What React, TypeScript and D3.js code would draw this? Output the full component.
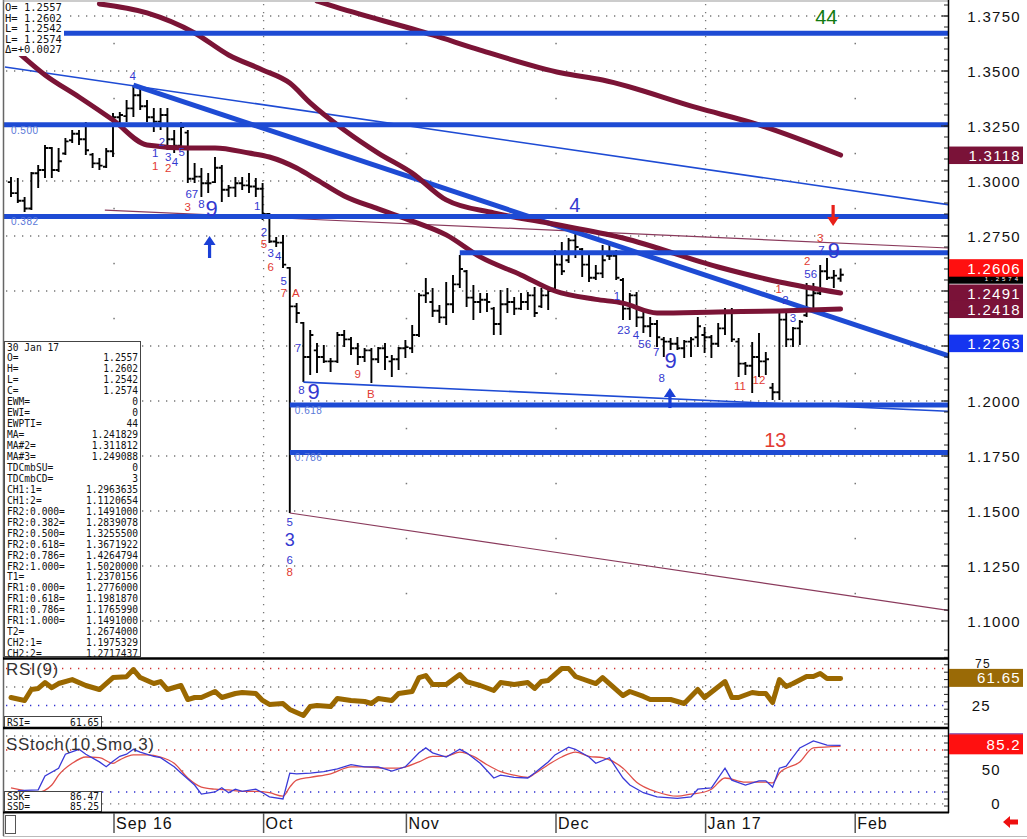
import React from "react";
import * as d3 from "d3";

// ---------- DATA (GBP daily, 11 Aug 2016 .. 30 Jan 2017, bar index 0..122) ----------
const highs = [
  1.3018, 1.3014, 1.2927, 1.3041, 1.3073, 1.3164, 1.3155, 1.315, 1.3195, 1.3232,
  1.3232, 1.3268, 1.3127, 1.3105, 1.315, 1.3309, 1.3314, 1.3368, 1.3436, 1.3423,
  1.3368, 1.3332, 1.3332, 1.3332, 1.3232, 1.3268, 1.3232, 1.3082, 1.3059, 1.3036,
  1.3109, 1.3073, 1.2982, 1.3018, 1.3018, 1.3036, 1.3014, 1.2991, 1.2855, 1.2745,
  1.2755, 1.2609, 1.2445, 1.2359, 1.2323, 1.2264, 1.2255, 1.2195, 1.2314, 1.2323,
  1.2291, 1.2264, 1.2241, 1.2241, 1.2245, 1.2264, 1.2209, 1.2245, 1.2277, 1.2345,
  1.2491, 1.2559, 1.2514, 1.2436, 1.2541, 1.2573, 1.2664, 1.2595, 1.2527, 1.2491,
  1.2491, 1.2427, 1.2505, 1.2514, 1.2473, 1.2491, 1.2495, 1.2518, 1.2514, 1.2505,
  1.2686, 1.2723, 1.2741, 1.2764, 1.2695, 1.2664, 1.2618, 1.2709, 1.2709, 1.2686,
  1.2559, 1.2491, 1.2495, 1.2405, 1.2382, 1.2368, 1.2291, 1.2286, 1.2291, 1.2277,
  1.2291, 1.2382, 1.2336, 1.23, 1.2355, 1.2423, 1.2423, 1.2286, 1.2177, 1.2268,
  1.2309, 1.2223, 1.2082, 1.2414, 1.2405, 1.2336, 1.2368, 1.2536, 1.2536, 1.2618,
  1.265, 1.2595, 1.2602,
];
const lows = [
  1.2927, 1.29, 1.2859, 1.2868, 1.2968, 1.3014, 1.3014, 1.3041, 1.3118, 1.3173,
  1.3164, 1.3118, 1.3059, 1.305, 1.3059, 1.3109, 1.3255, 1.3268, 1.3291, 1.3323,
  1.3268, 1.3223, 1.3232, 1.3141, 1.3127, 1.3141, 1.2991, 1.2991, 1.2927, 1.2945,
  1.2991, 1.2905, 1.2927, 1.2927, 1.2959, 1.2945, 1.2927, 1.2823, 1.2718, 1.27,
  1.2605, 1.1491, 1.2355, 1.2086, 1.2118, 1.2127, 1.2173, 1.2132, 1.2173, 1.2245,
  1.2209, 1.2164, 1.2177, 1.2082, 1.2173, 1.2141, 1.2109, 1.2141, 1.2195, 1.2218,
  1.2291, 1.2445, 1.2382, 1.2355, 1.2345, 1.24, 1.2514, 1.2427, 1.2368, 1.24,
  1.2405, 1.23, 1.23, 1.24, 1.2391, 1.2414, 1.2414, 1.2382, 1.2423, 1.2414,
  1.2505, 1.2573, 1.2627, 1.265, 1.2564, 1.2541, 1.255, 1.2559, 1.2641, 1.255,
  1.2368, 1.2368, 1.2336, 1.2309, 1.2291, 1.2245, 1.22, 1.2232, 1.2232, 1.2195,
  1.22, 1.2245, 1.2218, 1.2195, 1.2245, 1.23, 1.2268, 1.2109, 1.2118, 1.2036,
  1.2109, 1.2118, 1.2005, 1.2005, 1.2245, 1.2245, 1.2255, 1.2382, 1.2414, 1.2482,
  1.255, 1.2514, 1.2542,
];
const opens = [
  1.2995, 1.2945, 1.291, 1.2875, 1.3035, 1.305, 1.315, 1.305, 1.3125, 1.3185,
  1.3215, 1.319, 1.312, 1.308, 1.3065, 1.3135, 1.329, 1.3295, 1.333, 1.339,
  1.334, 1.329, 1.327, 1.33, 1.319, 1.316, 1.322, 1.301, 1.302, 1.299,
  1.2995, 1.306, 1.296, 1.297, 1.299, 1.298, 1.2975, 1.2965, 1.285, 1.2725,
  1.272, 1.2605, 1.243, 1.2355, 1.22, 1.223, 1.22, 1.218, 1.218, 1.23,
  1.228, 1.224, 1.22, 1.223, 1.219, 1.224, 1.218, 1.219, 1.224, 1.224,
  1.23, 1.248, 1.245, 1.241, 1.238, 1.244, 1.253, 1.259, 1.247, 1.245,
  1.246, 1.242, 1.235, 1.244, 1.245, 1.242, 1.245, 1.248, 1.243, 1.248,
  1.251, 1.262, 1.264, 1.273, 1.269, 1.262, 1.256, 1.258, 1.266, 1.266,
  1.255, 1.242, 1.248, 1.238, 1.234, 1.235, 1.228, 1.227, 1.226, 1.224,
  1.227, 1.229, 1.23, 1.229, 1.226, 1.233, 1.24, 1.227, 1.217, 1.216,
  1.22, 1.218, 1.206, 1.204, 1.237, 1.228, 1.233, 1.239, 1.248, 1.249,
  1.259, 1.256, 1.2557,
];
const closes = [
  1.2945, 1.291, 1.2875, 1.3035, 1.305, 1.315, 1.305, 1.309, 1.318, 1.3215,
  1.319, 1.314, 1.308, 1.307, 1.3135, 1.329, 1.33, 1.333, 1.339, 1.334,
  1.329, 1.327, 1.33, 1.319, 1.316, 1.3245, 1.301, 1.302, 1.299, 1.299,
  1.306, 1.296, 1.297, 1.299, 1.298, 1.2975, 1.2965, 1.285, 1.2725, 1.272,
  1.262, 1.243, 1.24, 1.22, 1.23, 1.22, 1.218, 1.218, 1.23, 1.228,
  1.224, 1.22, 1.223, 1.219, 1.224, 1.22, 1.219, 1.224, 1.2245, 1.23,
  1.248, 1.249, 1.241, 1.238, 1.244, 1.253, 1.26, 1.247, 1.245, 1.246,
  1.245, 1.235, 1.244, 1.245, 1.242, 1.245, 1.248, 1.24, 1.248, 1.25,
  1.262, 1.259, 1.273, 1.27, 1.262, 1.256, 1.258, 1.264, 1.266, 1.256,
  1.242, 1.248, 1.238, 1.234, 1.235, 1.229, 1.227, 1.226, 1.224, 1.227,
  1.228, 1.234, 1.229, 1.226, 1.233, 1.24, 1.228, 1.217, 1.216, 1.22,
  1.218, 1.219, 1.204, 1.237, 1.228, 1.233, 1.236, 1.248, 1.249, 1.259,
  1.256, 1.257, 1.2574,
];

// moving averages (read at bar indices)
const maIdx = [1, 5, 10, 15, 20, 26, 30, 35, 38, 42, 45, 49, 54, 59, 64, 69, 75, 80, 86, 90, 95, 104, 113, 122];
const maVal = [1.3586, 1.3482, 1.3382, 1.3277, 1.3164, 1.315, 1.315, 1.3127, 1.3109, 1.3059, 1.3005, 1.2932, 1.2873, 1.2818, 1.2755, 1.2655, 1.2573, 1.25, 1.2462, 1.2445, 1.24, 1.2405, 1.2409, 1.2418];
const ma3Idx = [13, 20, 27, 32, 37, 41, 44, 49, 54, 59, 64, 71, 79, 90, 104, 113, 122];
const ma3Val = [1.3805, 1.3764, 1.3673, 1.3573, 1.3505, 1.3445, 1.3355, 1.3232, 1.3127, 1.3036, 1.2914, 1.2855, 1.2809, 1.2741, 1.2609, 1.2541, 1.2491];
const ma2Idx = [45, 47, 62, 69, 81, 87, 101, 110, 122];
const ma2Val = [1.3818, 1.3798, 1.3664, 1.3595, 1.3491, 1.3459, 1.3332, 1.3255, 1.3118];

// RSI(9)
const rsiIdx = [0, 2, 3, 4, 5, 6, 7, 9, 11, 13, 15, 17, 18, 19, 21, 22, 23, 25, 26, 27, 28, 30, 31, 33, 34, 36, 37, 38, 40, 41, 43, 44, 45, 47, 48, 50, 52, 53, 54, 56, 57, 59, 60, 61, 62, 64, 66, 67, 69, 71, 72, 73, 74, 76, 77, 78, 79, 81, 82, 83, 86, 87, 90, 91, 93, 94, 97, 99, 101, 102, 105, 106, 107, 109, 110, 111, 112, 113, 114, 115, 117, 118, 119, 120, 122];
const rsiVal = [35.8, 31.8, 46.6, 48, 56, 49, 54.7, 60, 52, 46.6, 62.8, 64, 73.6, 62.8, 54.7, 57.4, 46.6, 52, 33, 35.8, 35.8, 44, 35.8, 41.2, 42.6, 41.2, 31.8, 26.4, 27.7, 19.6, 11.5, 23.6, 25, 23.6, 34.5, 31.8, 30.4, 27.7, 34.5, 31.8, 41.2, 43.9, 62.8, 65.5, 53.4, 53.4, 66.9, 57.4, 52, 45.3, 56, 54.7, 53.4, 56, 48, 57.4, 58.8, 75, 75, 64.2, 54.7, 62.8, 38.5, 43.9, 37.2, 33.1, 33.1, 27.7, 46.6, 35.8, 57.4, 35.8, 35.8, 42.6, 41.2, 41.2, 29, 60, 50.7, 54.7, 64.2, 64.2, 68.2, 61.5, 61.65];

// Slow stochastic (10, Smo, 3)
const sskIdx = [1, 4, 5, 7, 8, 10, 11, 13, 14, 15, 16, 17, 18, 19, 21, 22, 24, 25, 27, 28, 30, 31, 32, 33, 34, 36, 37, 38, 40, 41, 42, 44, 46, 48, 50, 52, 54, 56, 58, 60, 61, 62, 64, 66, 67, 69, 71, 72, 74, 76, 77, 79, 80, 82, 83, 85, 86, 88, 90, 91, 93, 95, 98, 100, 101, 103, 105, 106, 108, 110, 111, 112, 113, 114, 116, 118, 120, 122];
const sskVal = [22, 23, 43, 54, 74, 81, 74, 63, 56, 64, 71, 74, 81, 77, 71, 69, 56, 47, 30, 17, 20, 26, 19, 24, 21, 24, 19, 13, 10, 47, 46, 47, 49, 53, 59, 56, 56, 50, 56, 76, 83, 76, 70, 81, 76, 61, 40, 44, 41, 40, 47, 63, 73, 84, 81, 70, 61, 69, 40, 30, 19, 13, 11, 13, 24, 26, 54, 37, 30, 36, 36, 27, 54, 57, 83, 93, 87, 86.47];
const ssdIdx = [0, 4, 6, 7, 9, 11, 13, 15, 16, 18, 20, 22, 24, 26, 28, 30, 32, 34, 36, 38, 40, 41, 42, 44, 47, 50, 52, 55, 57, 60, 62, 64, 66, 68, 70, 72, 74, 76, 77, 79, 81, 83, 85, 87, 90, 92, 95, 98, 100, 102, 103, 105, 108, 111, 112, 113, 116, 118, 122];
const ssdVal = [26, 20, 30, 44, 61, 70, 69, 61, 66, 73, 73, 70, 61, 40, 27, 24, 23, 21, 21, 19, 14, 27, 37, 41, 46, 56, 56, 54, 54, 63, 71, 71, 77, 71, 59, 49, 44, 41, 46, 59, 70, 77, 71, 69, 54, 34, 20, 14, 17, 20, 24, 40, 34, 34, 33, 47, 63, 83, 85.25];

// ticks and levels
const priceTicks = [1.375, 1.35, 1.325, 1.3, 1.275, 1.25, 1.225, 1.2, 1.175, 1.15, 1.125, 1.1];
const halfLevels = [1.3625, 1.3375, 1.3125, 1.2875, 1.2625, 1.2375, 1.2125, 1.1875, 1.1625, 1.1375, 1.1125];
const monthLabels = ["Sep 16", "Oct", "Nov", "Dec", "Jan 17", "Feb"];
const monthIdx = [15, 37, 58, 80, 102, 124];
const monthQuarter = [false, true, false, false, true, false];

// fibonacci / target horizontal levels
const fibLevels = [
  { v: 1.3671922, from: -2, label: "" },
  { v: 1.32555, from: -2, label: "0.500" },
  { v: 1.2839078, from: -2, label: "0.382" },
  { v: 1.2674, from: 66, label: "" },
  { v: 1.198187, from: 41, label: "0.618" },
  { v: 1.176599, from: 41, label: "0.786" },
];

// trend / channel lines (bar index, price)
const channels = [
  { i1: -0.9, p1: 1.3518, i2: 122, p2: 1.2963635, kind: "thinBlue" },
  { i1: 41, p1: 1.1491, i2: 122, p2: 1.1120654, kind: "thinMaroon" },
  { i1: 43, p1: 1.2086, i2: 122, p2: 1.1975329, kind: "thinBlue" },
  { i1: 13.8, p1: 1.2868, i2: 122, p2: 1.2717437, kind: "thinMaroon" },
  { i1: 18, p1: 1.3436, i2: 122, p2: 1.2368, kind: "thickBlue" },
];

// TD / wave count annotations: text, bar index, price, colour, size class
const notes: [string, number, number, string, number][] = [
  ["4", 17.9, 1.3477, "b", 0], ["1", 21.2, 1.3127, "b", 0], ["1", 21.2, 1.3068, "r", 0],
  ["2", 22.2, 1.3177, "b", 0], ["3", 23.1, 1.3109, "b", 0], ["2", 23.1, 1.3059, "r", 0],
  ["4", 24.1, 1.3086, "b", 0], ["5", 25.1, 1.3132, "b", 0], ["67", 26.6, 1.2941, "b", 0],
  ["3", 26.0, 1.2882, "r", 0], ["8", 28.0, 1.2895, "b", 0], ["9", 29.5, 1.2877, "b", 1],
  ["1", 36.2, 1.2886, "b", 0], ["2", 37.2, 1.2768, "b", 0], ["5", 37.2, 1.2714, "r", 0],
  ["3", 38.2, 1.2673, "b", 0], ["6", 38.2, 1.2609, "r", 0], ["4", 39.3, 1.2659, "b", 0],
  ["5", 40.1, 1.2545, "b", 0], ["7", 40.1, 1.2491, "r", 0], ["A", 41.9, 1.2491, "r", 0],
  ["7", 42.2, 1.2241, "b", 0], ["8", 42.7, 1.2048, "b", 0], ["9", 44.5, 1.2041, "b", 1],
  ["9", 51.0, 1.2123, "r", 0], ["B", 52.9, 1.2032, "r", 0],
  ["4", 82.9, 1.2891, "b", 2], ["1", 89.1, 1.2477, "b", 0], ["23", 90.1, 1.2323, "b", 0],
  ["4", 91.9, 1.23, "b", 0], ["56", 93.2, 1.2259, "b", 0], ["7", 94.9, 1.2223, "b", 0],
  ["9", 97.0, 1.2186, "b", 1], ["8", 95.7, 1.2105, "b", 0],
  ["11", 107.2, 1.2068, "r", 0], ["12", 110.0, 1.2095, "r", 0],
  ["1", 112.9, 1.2509, "r", 0], ["2", 113.9, 1.2459, "b", 0], ["3", 115.0, 1.2377, "b", 0],
  ["2", 117.1, 1.2636, "r", 0], ["56", 117.6, 1.2577, "b", 0], ["3", 119.0, 1.2741, "r", 0],
  ["7", 119.2, 1.2686, "b", 0], ["9", 121.0, 1.2686, "b", 1],
  ["13", 112.4, 1.1823, "r", 2], ["5", 41.0, 1.1452, "b", 0], ["3", 41.0, 1.1366, "b", 3],
  ["6", 41.0, 1.1277, "b", 0], ["8", 41.0, 1.1222, "r", 0],
];
const arrows = [
  { i: 29.2, tip: 1.275, tail: 1.265, c: "#1a3fd6" },
  { i: 96.9, tip: 1.2059, tail: 1.1968, c: "#1a3fd6" },
  { i: 120.9, tip: 1.2795, tail: 1.2891, c: "#e8201a" },
];

const ohlcHead = ["O= 1.2557", "H= 1.2602", "L= 1.2542", "L= 1.2574", "Δ=+0.0027"];
const dataKeys = ["30 Jan 17", "O=", "H=", "L=", "C=", "EWM=", "EWI=", "EWPTI=", "MA=", "MA#2=", "MA#3=", "TDCmbSU=", "TDCmbCD=", "CH1:1=", "CH1:2=", "FR2:0.000=", "FR2:0.382=", "FR2:0.500=", "FR2:0.618=", "FR2:0.786=", "FR2:1.000=", "T1=", "FR1:0.000=", "FR1:0.618=", "FR1:0.786=", "FR1:1.000=", "T2=", "CH2:1=", "CH2:2="];
const dataVals = ["", "1.2557", "1.2602", "1.2542", "1.2574", "0", "0", "44", "1.241829", "1.311812", "1.249088", "0", "3", "1.2963635", "1.1120654", "1.1491000", "1.2839078", "1.3255500", "1.3671922", "1.4264794", "1.5020000", "1.2370156", "1.2776000", "1.1981870", "1.1765990", "1.1491000", "1.2674000", "1.1975329", "1.2717437"];

const axisBoxes = [
  { v: 1.3118, t: "1.3118", c: "#7a1238" },
  { v: 1.2606, t: "1.2606", c: "#ff1010" },
  { v: 1.2491, t: "1.2491", c: "#7a1238" },
  { v: 1.2418, t: "1.2418", c: "#7a1238" },
  { v: 1.2263, t: "1.2263", c: "#1535f0" },
];
const lastClose = { v: 1.2574, t: "1.2574" };

const MAROON = "#7b1436";
const BLUE = "#1e4bd4";
const FONT = "'Liberation Sans', Arial, sans-serif";
const MONO = "'DejaVu Sans Mono', monospace";
const NOTE_SIZES = [11.5, 22, 20, 18];

export default function App() {
  const x = d3.scaleLinear().domain([0, 122]).range([11, 11 + 122 * 6.8]);
  const y = d3.scaleLinear().domain([1.1, 1.375]).range([621, 16]);
  const yR = d3.scaleLinear().domain([25, 75]).range([705.5, 668.5]);
  const yS = d3.scaleLinear().domain([0, 100]).range([806, 736]);
  const xRight = x.invert(950);

  const maLine = (idx: number[], vals: number[]) =>
    d3.line<number>().x((_, k) => x(idx[k])).y((v) => y(v)).curve(d3.curveMonotoneX)(vals) || "";
  const rsiPath = d3.line<number>().x((_, k) => x(rsiIdx[k])).y((v) => yR(v))(rsiVal) || "";
  const sskPath = d3.line<number>().x((_, k) => x(sskIdx[k])).y((v) => yS(v))(sskVal) || "";
  const ssdPath = d3.line<number>().x((_, k) => x(ssdIdx[k])).y((v) => yS(v)).curve(d3.curveMonotoneX)(ssdVal) || "";

  const barPath = highs
    .map((h, i) => {
      const cx = x(i);
      return `M${cx},${y(h)}V${y(lows[i])}M${cx - 3.2},${y(opens[i])}H${cx}M${cx},${y(closes[i])}H${cx + 3.2}`;
    })
    .join("");

  const minorTicks = d3.range(0, 56).map((k) => 1.105 + k * 0.005);
  const monthX = monthIdx.map((i) => x(i) + 1);
  const visibleTicks = priceTicks.filter((p) => axisBoxes.every((b) => Math.abs(y(b.v) - y(p)) > 15));
  const redBox = axisBoxes[1];
  const stripTop = y(redBox.v) + 9;
  const rsiBoxTop = yR(61.65) - 9.5;

  return (
    <svg width={1027} height={839} style={{ position: "absolute", left: 0, top: 0, background: "#fff" }} fontFamily={FONT}>
      <defs>
        <clipPath id="mainClip">
          <rect x={4} y={2} width={944} height={656} />
        </clipPath>
        <clipPath id="lowClip">
          <rect x={4} y={659} width={944} height={153} />
        </clipPath>
      </defs>
      <rect x={0} y={0} width={1027} height={839} fill="#fff" />

      {/* ---------- grid main ---------- */}
      <g stroke="#777" strokeWidth={1.3} strokeDasharray="1.3 6.7">
        {priceTicks.map((p) => (
          <line key={p} x1={6} x2={946} y1={y(p)} y2={y(p)} />
        ))}
        {monthX.map((mx, k) =>
          monthQuarter[k] ? <line key={k} x1={mx} x2={mx} y1={4} y2={657} /> : null
        )}
      </g>
      <g fill="#777">
        {monthX.map((mx, k) =>
          !monthQuarter[k] && mx < 946
            ? halfLevels.map((p) => <rect key={k + "-" + p} x={mx - 0.7} y={y(p) - 0.7} width={1.5} height={1.5} />)
            : null
        )}
      </g>

      {/* ---------- price bars ---------- */}
      <g clipPath="url(#mainClip)">
        <path d={barPath} stroke="#000" strokeWidth={1.9} fill="none" />

        {/* channel lines */}
        {channels.map((c, k) => {
          const pAt = (i: number) => c.p1 + ((c.p2 - c.p1) * (i - c.i1)) / (c.i2 - c.i1);
          const stroke = c.kind === "thinMaroon" ? "#8a3a5c" : BLUE;
          const w = c.kind === "thickBlue" ? 5 : c.kind === "thinBlue" ? 1.6 : 1.2;
          return <line key={k} x1={x(c.i1)} y1={y(c.p1)} x2={x(xRight)} y2={y(pAt(xRight))} stroke={stroke} strokeWidth={w} />;
        })}

        {/* moving averages */}
        <g fill="none" stroke={MAROON} strokeWidth={5} strokeLinecap="round" strokeLinejoin="round">
          <path d={maLine(ma2Idx, ma2Val)} />
          <path d={maLine(ma3Idx, ma3Val)} />
          <path d={maLine(maIdx, maVal)} />
        </g>

        {/* fib horizontal lines */}
        {fibLevels.map((f, k) => (
          <g key={k}>
            <line x1={x(f.from)} x2={950} y1={y(f.v)} y2={y(f.v)} stroke={BLUE} strokeWidth={5} />
            {f.label ? (
              <text x={x(f.from < 0 ? 0 : f.from) + (f.from < 0 ? 0 : 5)} y={y(f.v) + 9} fontSize={10} fill="#5a78d8" letterSpacing={0.5}>
                {f.label}
              </text>
            ) : null}
          </g>
        ))}

        {/* annotations */}
        {notes.map(([t, i, p, c, s], k) => (
          <text
            key={k}
            x={x(i)}
            y={y(p)}
            textAnchor="middle"
            dominantBaseline="central"
            fontSize={NOTE_SIZES[s]}
            fill={c === "b" ? "#3438d0" : "#e23a32"}
          >
            {t}
          </text>
        ))}
        {arrows.map((a, k) => {
          const cx = x(a.i);
          const ty = y(a.tip);
          const by = y(a.tail);
          const dir = by > ty ? 1 : -1;
          return (
            <g key={k} fill={a.c}>
              <rect x={cx - 1.6} y={Math.min(ty + dir * 8, by)} width={3.2} height={Math.abs(by - (ty + dir * 8))} />
              <path d={`M${cx},${ty}L${cx - 6},${ty + dir * 9}L${cx + 6},${ty + dir * 9}Z`} />
            </g>
          );
        })}
        <text x={x(119.9)} y={y(1.3745)} textAnchor="middle" dominantBaseline="central" fontSize={20} fill="#127a12">
          44
        </text>
      </g>

      {/* OHLC header box */}
      <rect x={4} y={2} width={60} height={54} fill="#fff" />
      {ohlcHead.map((t, k) => (
        <text key={k} x={5} y={11 + k * 10.6} fontSize={10.5} fontFamily={MONO} fill="#111">
          {t}
        </text>
      ))}

      {/* data window */}
      <rect x={4.5} y={341.5} width={136} height={315} fill="#fff" stroke="#444" strokeWidth={1} />
      {dataKeys.map((k, r) => (
        <g key={k} fontSize={9.6} fontFamily={MONO} fill="#111">
          <text x={7} y={350.5 + r * 10.95}>{k}</text>
          <text x={138} y={350.5 + r * 10.95} textAnchor="end">{dataVals[r]}</text>
        </g>
      ))}

      {/* ---------- RSI / stochastic panels ---------- */}
      <g strokeWidth={1.3} strokeDasharray="1.3 6.7" fill="none">
        <line x1={6} x2={946} y1={yR(75)} y2={yR(75)} stroke="#d03030" />
        <line x1={6} x2={946} y1={yR(50)} y2={yR(50)} stroke="#777" />
        <line x1={6} x2={946} y1={yR(25)} y2={yR(25)} stroke="#3030d0" />
        <line x1={6} x2={946} y1={yR(3)} y2={yR(3)} stroke="#777" />
        <line x1={6} x2={946} y1={yS(100)} y2={yS(100)} stroke="#777" />
        <line x1={6} x2={946} y1={yS(80)} y2={yS(80)} stroke="#d03030" />
        <line x1={6} x2={946} y1={yS(50)} y2={yS(50)} stroke="#777" />
        <line x1={6} x2={946} y1={yS(20)} y2={yS(20)} stroke="#3030d0" />
        <line x1={6} x2={946} y1={yS(3)} y2={yS(3)} stroke="#777" />
        {monthX.map((mx, k) =>
          monthQuarter[k] ? (
            <g key={k} stroke="#777">
              <line x1={mx} x2={mx} y1={661} y2={726} />
              <line x1={mx} x2={mx} y1={731} y2={811} />
            </g>
          ) : null
        )}
      </g>
      <g clipPath="url(#lowClip)">
        <path d={rsiPath} fill="none" stroke="#9a6800" strokeWidth={5} strokeLinejoin="round" strokeLinecap="round" />
        <path d={ssdPath} fill="none" stroke="#e0504a" strokeWidth={1.3} />
        <path d={sskPath} fill="none" stroke="#3a3ad8" strokeWidth={1.3} />
      </g>
      <text x={6} y={675} fontSize={17} fill="#333" letterSpacing={0.6}>RSI(9)</text>
      <rect x={4.5} y={716.5} width={97} height={11} fill="#fff" stroke="#444" />
      <text x={7} y={725.5} fontSize={9.6} fontFamily={MONO} fill="#111">RSI=</text>
      <text x={99} y={725.5} fontSize={9.6} fontFamily={MONO} fill="#111" textAnchor="end">61.65</text>

      <text x={6} y={750} fontSize={17} fill="#333" letterSpacing={0.6}>SStoch(10,Smo,3)</text>
      <rect x={4.5} y={791.5} width={97} height={20} fill="#fff" stroke="#444" />
      <text x={7} y={800} fontSize={9.6} fontFamily={MONO} fill="#111">SSK=</text>
      <text x={99} y={800} fontSize={9.6} fontFamily={MONO} fill="#111" textAnchor="end">86.47</text>
      <text x={7} y={810} fontSize={9.6} fontFamily={MONO} fill="#111">SSD=</text>
      <text x={99} y={810} fontSize={9.6} fontFamily={MONO} fill="#111" textAnchor="end">85.25</text>

      {/* ---------- frames ---------- */}
      <line x1={3.5} x2={3.5} y1={0} y2={836} stroke="#666" strokeWidth={1.5} />
      <line x1={3} x2={948} y1={1} y2={1} stroke="#999" strokeWidth={1} />
      <line x1={3} x2={949} y1={658.5} y2={658.5} stroke="#000" strokeWidth={2.5} />
      <line x1={3} x2={949} y1={728} y2={728} stroke="#000" strokeWidth={2.5} />
      <line x1={3} x2={949} y1={812.5} y2={812.5} stroke="#000" strokeWidth={2} />
      <line x1={948.5} x2={948.5} y1={0} y2={813} stroke="#000" strokeWidth={1.5} />
      <line x1={3} x2={1027} y1={836.5} y2={836.5} stroke="#bbb" strokeWidth={1} />

      {/* right axis ticks */}
      <g stroke="#222" strokeWidth={1}>
        {minorTicks.map((p, k) => (
          <line key={k} x1={944} x2={948} y1={y(p)} y2={y(p)} />
        ))}
        {priceTicks.map((p) => (
          <line key={p} x1={941} x2={948} y1={y(p)} y2={y(p)} />
        ))}
        {d3.range(0, 11).map((k) => (
          <line key={"r" + k} x1={944} x2={948} y1={yR(k * 10)} y2={yR(k * 10)} />
        ))}
        {d3.range(0, 11).map((k) => (
          <line key={"s" + k} x1={944} x2={948} y1={yS(k * 10)} y2={yS(k * 10)} />
        ))}
      </g>

      {/* right axis labels */}
      <g fontSize={15} fill="#111" letterSpacing={1.3}>
        {visibleTicks.map((p) => (
          <text key={p} x={1021} y={y(p)} textAnchor="end" dominantBaseline="central">
            {p.toFixed(4)}
          </text>
        ))}
        <text x={991} y={rsiBoxTop - 0.5} fontSize={12} textAnchor="end">75</text>
        <text x={991} y={yR(25)} textAnchor="end" dominantBaseline="central">25</text>
        <text x={1001} y={yS(50) - 2} textAnchor="end" dominantBaseline="central">50</text>
        <text x={1001} y={yS(0) - 3} textAnchor="end" dominantBaseline="central">0</text>
      </g>
      <g fontSize={15} letterSpacing={1.3}>
        {/* last close strip, mostly covered by the neighbouring boxes */}
        <rect x={949} y={y(lastClose.v) - 8.5} width={74} height={17.5} fill="#000" />
        <text x={1021} y={stripTop + 0.5} textAnchor="end" fontSize={6} fill="#fff" dominantBaseline="hanging" letterSpacing={3}>
          {lastClose.t}
        </text>
        {axisBoxes.map((b) => (
          <g key={b.t}>
            <rect x={949} y={y(b.v) - 8.5} width={74} height={17.5} fill={b.c} />
            <text x={1021} y={y(b.v) + 0.5} textAnchor="end" dominantBaseline="central" fill="#fff">
              {b.t}
            </text>
          </g>
        ))}
        <rect x={949} y={rsiBoxTop} width={74} height={18} fill="#9a6a06" />
        <text x={1021} y={yR(61.65) - 0.5} textAnchor="end" dominantBaseline="central" fill="#fff">61.65</text>
        <rect x={949} y={yS(85.25) - 13} width={74} height={21} fill="#ff1010" />
        <line x1={949} x2={1023} y1={yS(85.25) - 12.5} y2={yS(85.25) - 12.5} stroke="#7070e0" strokeWidth={1} />
        <text x={1021} y={yS(85.25) - 2} textAnchor="end" dominantBaseline="central" fill="#fff">85.2</text>
      </g>

      {/* ---------- date axis ---------- */}
      <rect x={5.5} y={815.5} width={10} height={18} fill="#fff" stroke="#555" />
      {monthLabels.map((m, k) => (
        <g key={m}>
          <line x1={monthX[k]} x2={monthX[k]} y1={813} y2={833} stroke="#555" strokeWidth={1.5} />
          <text x={monthX[k] + 2} y={829} fontSize={16} fill="#111" letterSpacing={1}>
            {m}
          </text>
        </g>
      ))}
      <path d="M1003,822 L1010,816 L1010,819.5 L1018,819.5 L1018,824.5 L1010,824.5 L1010,828 Z" fill="#ee1010" />
    </svg>
  );
}
